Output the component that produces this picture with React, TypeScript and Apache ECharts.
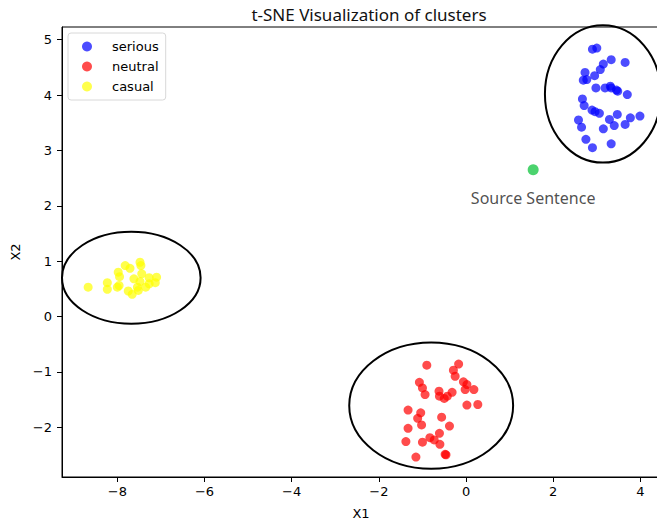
import React, { useEffect, useRef } from "react";
import * as echarts from "echarts";

const seriousPoints: [number, number][] = [
  [2.9, 4.83], [3.0, 4.85], [3.33, 4.64], [3.65, 4.59], [3.15, 4.56], [3.08, 4.46],
  [2.73, 4.41], [2.95, 4.35], [2.69, 4.27], [2.77, 4.28], [2.98, 4.13], [3.19, 4.13],
  [3.31, 4.16], [3.33, 4.13], [3.45, 4.09], [3.48, 4.07], [3.7, 4.01], [2.67, 3.93],
  [2.71, 3.81], [2.89, 3.73], [2.96, 3.7], [3.06, 3.67], [3.47, 3.65], [3.29, 3.56],
  [3.77, 3.59], [3.99, 3.62], [2.58, 3.55], [2.65, 3.42], [3.4, 3.45], [3.65, 3.47],
  [3.15, 3.39], [2.75, 3.2], [2.9, 3.05], [3.33, 3.12],
];

const neutralPoints: [number, number][] = [
  [-0.9, -0.88], [-0.17, -0.86], [-0.29, -0.97], [-0.25, -1.08], [-1.07, -1.19],
  [-1.0, -1.29], [-0.94, -1.41], [-0.62, -1.35], [-0.61, -1.44], [-0.5, -1.48],
  [-0.43, -1.44], [-0.32, -1.37], [-0.06, -1.18], [0.02, -1.23], [-0.02, -1.32],
  [0.18, -1.32], [0.02, -1.6], [0.27, -1.59], [-1.33, -1.69], [-1.04, -1.74],
  [-1.11, -1.84], [-1.02, -1.96], [-0.56, -1.82], [-0.38, -1.98], [-1.33, -2.02],
  [-0.61, -2.11], [-0.83, -2.19], [-0.73, -2.23], [-0.6, -2.31], [-1.38, -2.26],
  [-1.0, -2.27], [-0.48, -2.49], [-0.46, -2.5], [-1.15, -2.54],
];

const casualPoints: [number, number][] = [
  [-8.67, 0.53], [-8.23, 0.61], [-8.23, 0.49], [-8.0, 0.53], [-7.96, 0.56],
  [-7.82, 0.92], [-7.71, 0.87], [-7.48, 0.98], [-7.46, 0.92], [-7.98, 0.8],
  [-7.95, 0.72], [-7.44, 0.77], [-7.62, 0.68], [-7.27, 0.7], [-7.1, 0.71],
  [-7.13, 0.61], [-7.48, 0.63], [-7.54, 0.53], [-7.35, 0.53], [-7.75, 0.46],
  [-7.66, 0.4], [-7.52, 0.47], [-7.27, 0.59],
];

const sourcePoint: [number, number][] = [[1.54, 2.65]];

// ellipses: [centerX, centerY, radiusX, radiusY]
const clusterEllipses: [number, number, number, number][] = [
  [3.14, 4.02, 1.33, 1.24],
  [-0.8, -1.61, 1.88, 1.14],
  [-7.68, 0.7, 1.59, 0.83],
];

const xTicks = [-8, -6, -4, -2, 0, 2, 4];
const yTicks = [-2, -1, 0, 1, 2, 3, 4, 5];

const FONT = "DejaVu Sans";
const fmt = (v: number) => String(v).replace("-", "\u2212");

export default function App() {
  const ref = useRef<HTMLDivElement>(null);
  useEffect(() => {
    if (!ref.current) return;
    const chart = echarts.init(ref.current, undefined, { renderer: "svg" });
    chart.setOption({
      animation: false,
      backgroundColor: "#fff",
      title: {
        text: "t-SNE Visualization of clusters",
        left: 364,
        textAlign: "center",
        top: 1,
        textStyle: { fontFamily: "Noto Sans", fontSize: 17, fontWeight: "normal", color: "#111" },
      },
      legend: {
        left: 68,
        top: 33,
        orient: "vertical",
        data: ["serious", "neutral", "casual"],
        backgroundColor: "#fff",
        borderColor: "#d8d8d8",
        borderWidth: 1,
        borderRadius: 3,
        padding: [6, 7, 6, 14],
        itemWidth: 10,
        itemHeight: 10,
        itemGap: 5,
        icon: "circle",
        textStyle: { fontFamily: FONT, fontSize: 13, color: "#000", padding: [0, 0, 0, 15], lineHeight: 15 },
      },
      grid: {
        left: 62,
        top: 27,
        width: 598,
        height: 450,
        outerBoundsMode: "none",
        containLabel: false,
        show: true,
        borderColor: "#000",
        borderWidth: 1,
        backgroundColor: "transparent",
      },
      xAxis: {
        type: "value",
        min: -9.27,
        max: 4.45,
        name: "X1",
        nameLocation: "middle",
        nameGap: 30,
        nameTextStyle: { fontFamily: FONT, fontSize: 13, color: "#000" },
        splitLine: { show: false },
        axisLine: { show: true, onZero: false, lineStyle: { color: "#000" } },
        axisTick: { show: true, length: 5, lineStyle: { color: "#000" }, customValues: xTicks },
        axisLabel: { fontFamily: FONT, fontSize: 13, color: "#000", margin: 8, customValues: xTicks, formatter: fmt },
      },
      yAxis: {
        type: "value",
        min: -2.9,
        max: 5.23,
        name: "X2",
        nameLocation: "middle",
        nameGap: 40,
        nameTextStyle: { fontFamily: FONT, fontSize: 13, color: "#000" },
        splitLine: { show: false },
        axisLine: { show: true, onZero: false, lineStyle: { color: "#000" } },
        axisTick: { show: true, length: 5, lineStyle: { color: "#000" }, customValues: yTicks },
        axisLabel: { fontFamily: FONT, fontSize: 13, color: "#000", margin: 10, customValues: yTicks, formatter: fmt },
      },
      series: [
        { name: "serious", type: "scatter", data: seriousPoints, symbolSize: 9, itemStyle: { color: "#0000ff", opacity: 0.7 } },
        { name: "neutral", type: "scatter", data: neutralPoints, symbolSize: 9, itemStyle: { color: "#ff0000", opacity: 0.7 } },
        { name: "casual", type: "scatter", data: casualPoints, symbolSize: 9, itemStyle: { color: "#ffff00", opacity: 0.7 } },
        {
          name: "source",
          type: "scatter",
          data: sourcePoint,
          symbolSize: 11,
          itemStyle: { color: "#1ec84a" },
          label: {
            show: true,
            position: "bottom",
            distance: 15,
            formatter: "Source Sentence",
            fontFamily: "Noto Sans",
            fontSize: 16,
            color: "#222",
          },
        },
        {
          name: "ellipses",
          type: "custom",
          data: clusterEllipses,
          clip: false,
          silent: true,
          renderItem: (params: any, api: any) => {
            const c = api.coord([api.value(0), api.value(1)]);
            const s = api.size([api.value(2), api.value(3)]);
            return {
              type: "ellipse",
              shape: { cx: c[0], cy: c[1], rx: s[0], ry: s[1] },
              style: { fill: "none", stroke: "#000", lineWidth: 2 },
            };
          },
        },
      ],
    });
    return () => chart.dispose();
  }, []);
  return <div ref={ref} style={{ width: 657, height: 523, position: "absolute", left: 0, top: 0 }} />;
}
